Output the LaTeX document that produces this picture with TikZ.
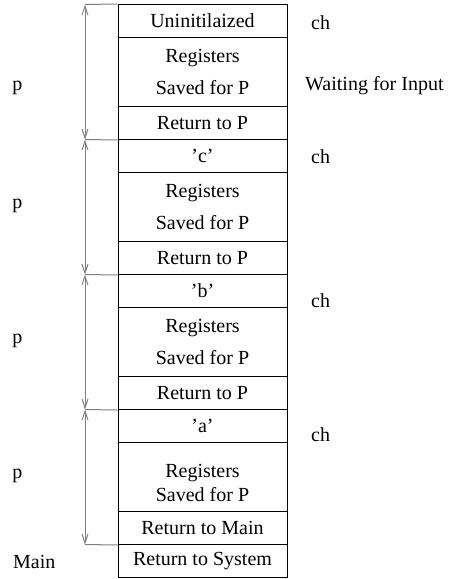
\documentclass[tikz,border=0pt]{standalone}
\usepackage{fontspec}
\setmainfont{Liberation Serif}
\usetikzlibrary{arrows.meta}

\begin{document}
\begin{tikzpicture}[x=1pt,y=-1pt,
    every node/.style={font=\fontsize{20}{24}\selectfont},
    cell/.style={draw,line width=1pt,minimum width=169pt,inner sep=0pt,align=center},
    slot/.style={cell,minimum height=33pt},
    regs/.style={cell,minimum height=69pt},
    tag/.style={inner sep=0pt,anchor=base},
    span/.style={draw=gray,line width=1pt,{Straight Barb[length=9pt,width=6pt]}-{Straight Barb[length=9pt,width=6pt]}},
    guide/.style={draw=gray,line width=1pt}]
  \useasboundingbox (0,0) rectangle (463,579);
  % frames of P on the stack
  \node[slot] (v1) at (202.5,21) {Uninitilaized};
  \node[regs] (s1) at (202.5,72) {Registers\\[8pt]Saved for P};
  \node[slot] (r1) at (202.5,123) {Return to P};
  \node[slot] (v2) at (202.5,156) {'c'};
  \node[regs] (s2) at (202.5,207) {Registers\\[8pt]Saved for P};
  \node[slot] (r2) at (202.5,258) {Return to P};
  \node[slot] (v3) at (202.5,291) {'b'};
  \node[regs] (s3) at (202.5,342) {Registers\\[8pt]Saved for P};
  \node[slot] (r3) at (202.5,393) {Return to P};
  \node[slot] (v4) at (202.5,426) {'a'};
  \node[regs] (s4) at (202.5,477) {};
  \node[align=center,inner sep=0pt] (t4) at (202.5,483) {Registers\\Saved for P};
  \node[slot] (r4) at (202.5,528) {Return to Main};
  \node[slot] (r5) at (202.5,561) {Return to System};

  % frame extents
  \coordinate (b0) at (85,4.5);
  \coordinate (b1) at (85,139.5);
  \coordinate (b2) at (85,274.5);
  \coordinate (b3) at (85,409.5);
  \coordinate (b4) at (85,544.5);
  \draw[guide] (b0) -- (v1.north west);
  \foreach \i [evaluate=\i as \j using int(\i-1)] in {1,...,4} {
    \draw[guide] (b\i) -- (r\i.south west);
    \draw[span] (b\j) -- (b\i);
  }

  % labels
  \node[tag] (p1) at (17.5,90) {p};
  \node[tag] (p2) at (17.5,208) {p};
  \node[tag] (p3) at (17.5,343) {p};
  \node[tag] (p4) at (17.5,478) {p};
  \node[tag,anchor=base west] (main) at (13,568) {Main};
  \node[tag,anchor=base west] (ch1) at (311,29.5) {ch};
  \node[tag,anchor=base west] (wait) at (305,90) {Waiting for Input};
  \node[tag,anchor=base west] (ch2) at (311,163.5) {ch};
  \node[tag,anchor=base west] (ch3) at (311,307.5) {ch};
  \node[tag,anchor=base west] (ch4) at (311,441.5) {ch};
\end{tikzpicture}
\end{document}
